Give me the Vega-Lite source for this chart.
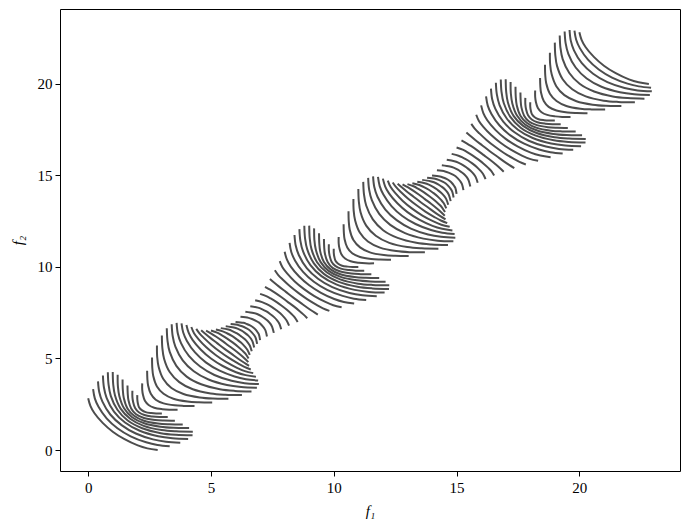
{
"$schema": "https://vega.github.io/schema/vega-lite/v6.json",
"width": 620, "height": 462,
"autosize": {"type": "none"},
"padding": {"left": 60, "top": 9, "right": 10, "bottom": 57},
"background": "white",
"config": {"view": {"stroke": "black", "strokeWidth": 1},
 "axis": {"domain": false, "grid": false, "tickColor": "black", "tickSize": 5, "tickWidth": 1, "labelFont": "Liberation Serif", "labelFontSize": 15, "labelColor": "black", "labelPadding": 4, "titleFont": "Liberation Serif", "titleFontSize": 15, "titleFontStyle": "italic", "titleFontWeight": "normal", "titleColor": "black"}},
"data": {"values": [
{"c":0,"x":0,"y":2.83},{"c":0,"x":0.09,"y":2.41},{"c":0,"x":0.25,"y":2.02},{"c":0,"x":0.59,"y":1.48},{"c":0,"x":1,"y":1},{"c":0,"x":1.48,"y":0.59},{"c":0,"x":2.02,"y":0.25},{"c":0,"x":2.41,"y":0.09},{"c":0,"x":2.83,"y":0},
{"c":1,"x":0.2,"y":3.32},{"c":1,"x":0.27,"y":2.82},{"c":1,"x":0.42,"y":2.36},{"c":1,"x":0.75,"y":1.73},{"c":1,"x":1.19,"y":1.19},{"c":1,"x":1.73,"y":0.75},{"c":1,"x":2.36,"y":0.42},{"c":1,"x":2.82,"y":0.27},{"c":1,"x":3.32,"y":0.2},
{"c":2,"x":0.4,"y":3.75},{"c":2,"x":0.45,"y":3.17},{"c":2,"x":0.58,"y":2.64},{"c":2,"x":0.9,"y":1.94},{"c":2,"x":1.36,"y":1.36},{"c":2,"x":1.94,"y":0.9},{"c":2,"x":2.64,"y":0.58},{"c":2,"x":3.17,"y":0.45},{"c":2,"x":3.75,"y":0.4},
{"c":3,"x":0.6,"y":4.07},{"c":3,"x":0.64,"y":3.43},{"c":3,"x":0.75,"y":2.85},{"c":3,"x":1.05,"y":2.1},{"c":3,"x":1.5,"y":1.5},{"c":3,"x":2.1,"y":1.05},{"c":3,"x":2.85,"y":0.75},{"c":3,"x":3.43,"y":0.64},{"c":3,"x":4.07,"y":0.6},
{"c":4,"x":0.8,"y":4.25},{"c":4,"x":0.83,"y":3.57},{"c":4,"x":0.92,"y":2.96},{"c":4,"x":1.19,"y":2.2},{"c":4,"x":1.61,"y":1.61},{"c":4,"x":2.2,"y":1.19},{"c":4,"x":2.96,"y":0.92},{"c":4,"x":3.57,"y":0.83},{"c":4,"x":4.25,"y":0.8},
{"c":5,"x":1,"y":4.26},{"c":5,"x":1.02,"y":3.58},{"c":5,"x":1.09,"y":2.99},{"c":5,"x":1.32,"y":2.26},{"c":5,"x":1.71,"y":1.71},{"c":5,"x":2.26,"y":1.32},{"c":5,"x":2.99,"y":1.09},{"c":5,"x":3.58,"y":1.02},{"c":5,"x":4.26,"y":1},
{"c":6,"x":1.2,"y":4.11},{"c":6,"x":1.21,"y":3.48},{"c":6,"x":1.27,"y":2.94},{"c":6,"x":1.46,"y":2.28},{"c":6,"x":1.79,"y":1.79},{"c":6,"x":2.28,"y":1.46},{"c":6,"x":2.94,"y":1.27},{"c":6,"x":3.48,"y":1.21},{"c":6,"x":4.11,"y":1.2},
{"c":7,"x":1.4,"y":3.85},{"c":7,"x":1.41,"y":3.3},{"c":7,"x":1.45,"y":2.84},{"c":7,"x":1.6,"y":2.27},{"c":7,"x":1.87,"y":1.87},{"c":7,"x":2.27,"y":1.6},{"c":7,"x":2.84,"y":1.45},{"c":7,"x":3.3,"y":1.41},{"c":7,"x":3.85,"y":1.4},
{"c":8,"x":1.6,"y":3.53},{"c":8,"x":1.61,"y":3.09},{"c":8,"x":1.64,"y":2.72},{"c":8,"x":1.75,"y":2.27},{"c":8,"x":1.95,"y":1.95},{"c":8,"x":2.27,"y":1.75},{"c":8,"x":2.72,"y":1.64},{"c":8,"x":3.09,"y":1.61},{"c":8,"x":3.53,"y":1.6},
{"c":9,"x":1.8,"y":3.24},{"c":9,"x":1.8,"y":2.9},{"c":9,"x":1.83,"y":2.62},{"c":9,"x":1.91,"y":2.29},{"c":9,"x":2.06,"y":2.06},{"c":9,"x":2.29,"y":1.91},{"c":9,"x":2.62,"y":1.83},{"c":9,"x":2.9,"y":1.8},{"c":9,"x":3.24,"y":1.8},
{"c":10,"x":2,"y":3},{"c":10,"x":2,"y":2.77},{"c":10,"x":2.02,"y":2.57},{"c":10,"x":2.07,"y":2.34},{"c":10,"x":2.18,"y":2.18},{"c":10,"x":2.34,"y":2.07},{"c":10,"x":2.57,"y":2.02},{"c":10,"x":2.77,"y":2},{"c":10,"x":3,"y":2},
{"c":11,"x":2.2,"y":3.64},{"c":11,"x":2.2,"y":3.3},{"c":11,"x":2.23,"y":3.02},{"c":11,"x":2.31,"y":2.69},{"c":11,"x":2.46,"y":2.46},{"c":11,"x":2.69,"y":2.31},{"c":11,"x":3.02,"y":2.23},{"c":11,"x":3.3,"y":2.2},{"c":11,"x":3.64,"y":2.2},
{"c":12,"x":2.4,"y":4.33},{"c":12,"x":2.41,"y":3.89},{"c":12,"x":2.44,"y":3.52},{"c":12,"x":2.55,"y":3.07},{"c":12,"x":2.75,"y":2.75},{"c":12,"x":3.07,"y":2.55},{"c":12,"x":3.52,"y":2.44},{"c":12,"x":3.89,"y":2.41},{"c":12,"x":4.33,"y":2.4},
{"c":13,"x":2.6,"y":5.05},{"c":13,"x":2.61,"y":4.5},{"c":13,"x":2.65,"y":4.04},{"c":13,"x":2.8,"y":3.47},{"c":13,"x":3.07,"y":3.07},{"c":13,"x":3.47,"y":2.8},{"c":13,"x":4.04,"y":2.65},{"c":13,"x":4.5,"y":2.61},{"c":13,"x":5.05,"y":2.6},
{"c":14,"x":2.8,"y":5.71},{"c":14,"x":2.81,"y":5.08},{"c":14,"x":2.87,"y":4.54},{"c":14,"x":3.06,"y":3.88},{"c":14,"x":3.39,"y":3.39},{"c":14,"x":3.88,"y":3.06},{"c":14,"x":4.54,"y":2.87},{"c":14,"x":5.08,"y":2.81},{"c":14,"x":5.71,"y":2.8},
{"c":15,"x":3,"y":6.26},{"c":15,"x":3.02,"y":5.58},{"c":15,"x":3.09,"y":4.99},{"c":15,"x":3.32,"y":4.26},{"c":15,"x":3.71,"y":3.71},{"c":15,"x":4.26,"y":3.32},{"c":15,"x":4.99,"y":3.09},{"c":15,"x":5.58,"y":3.02},{"c":15,"x":6.26,"y":3},
{"c":16,"x":3.2,"y":6.65},{"c":16,"x":3.23,"y":5.97},{"c":16,"x":3.32,"y":5.36},{"c":16,"x":3.59,"y":4.6},{"c":16,"x":4.01,"y":4.01},{"c":16,"x":4.6,"y":3.59},{"c":16,"x":5.36,"y":3.32},{"c":16,"x":5.97,"y":3.23},{"c":16,"x":6.65,"y":3.2},
{"c":17,"x":3.4,"y":6.87},{"c":17,"x":3.44,"y":6.23},{"c":17,"x":3.55,"y":5.65},{"c":17,"x":3.85,"y":4.9},{"c":17,"x":4.3,"y":4.3},{"c":17,"x":4.9,"y":3.85},{"c":17,"x":5.65,"y":3.55},{"c":17,"x":6.23,"y":3.44},{"c":17,"x":6.87,"y":3.4},
{"c":18,"x":3.6,"y":6.95},{"c":18,"x":3.65,"y":6.37},{"c":18,"x":3.78,"y":5.84},{"c":18,"x":4.1,"y":5.14},{"c":18,"x":4.56,"y":4.56},{"c":18,"x":5.14,"y":4.1},{"c":18,"x":5.84,"y":3.78},{"c":18,"x":6.37,"y":3.65},{"c":18,"x":6.95,"y":3.6},
{"c":19,"x":3.8,"y":6.92},{"c":19,"x":3.87,"y":6.42},{"c":19,"x":4.02,"y":5.96},{"c":19,"x":4.35,"y":5.33},{"c":19,"x":4.79,"y":4.79},{"c":19,"x":5.33,"y":4.35},{"c":19,"x":5.96,"y":4.02},{"c":19,"x":6.42,"y":3.87},{"c":19,"x":6.92,"y":3.8},
{"c":20,"x":4,"y":6.83},{"c":20,"x":4.09,"y":6.41},{"c":20,"x":4.25,"y":6.02},{"c":20,"x":4.59,"y":5.48},{"c":20,"x":5,"y":5},{"c":20,"x":5.48,"y":4.59},{"c":20,"x":6.02,"y":4.25},{"c":20,"x":6.41,"y":4.09},{"c":20,"x":6.83,"y":4},
{"c":21,"x":4.2,"y":6.72},{"c":21,"x":4.31,"y":6.38},{"c":21,"x":4.49,"y":6.06},{"c":21,"x":4.81,"y":5.61},{"c":21,"x":5.19,"y":5.19},{"c":21,"x":5.61,"y":4.81},{"c":21,"x":6.06,"y":4.49},{"c":21,"x":6.38,"y":4.31},{"c":21,"x":6.72,"y":4.2},
{"c":22,"x":4.4,"y":6.62},{"c":22,"x":4.54,"y":6.36},{"c":22,"x":4.73,"y":6.1},{"c":22,"x":5.03,"y":5.73},{"c":22,"x":5.37,"y":5.37},{"c":22,"x":5.73,"y":5.03},{"c":22,"x":6.1,"y":4.73},{"c":22,"x":6.36,"y":4.54},{"c":22,"x":6.62,"y":4.4},
{"c":23,"x":4.6,"y":6.55},{"c":23,"x":4.78,"y":6.34},{"c":23,"x":4.96,"y":6.14},{"c":23,"x":5.25,"y":5.84},{"c":23,"x":5.54,"y":5.54},{"c":23,"x":5.84,"y":5.25},{"c":23,"x":6.14,"y":4.96},{"c":23,"x":6.34,"y":4.78},{"c":23,"x":6.55,"y":4.6},
{"c":24,"x":4.8,"y":6.52},{"c":24,"x":5.01,"y":6.36},{"c":24,"x":5.2,"y":6.2},{"c":24,"x":5.46,"y":5.96},{"c":24,"x":5.71,"y":5.71},{"c":24,"x":5.96,"y":5.46},{"c":24,"x":6.2,"y":5.2},{"c":24,"x":6.36,"y":5.01},{"c":24,"x":6.52,"y":4.8},
{"c":25,"x":5,"y":6.53},{"c":25,"x":5.25,"y":6.41},{"c":25,"x":5.43,"y":6.28},{"c":25,"x":5.66,"y":6.09},{"c":25,"x":5.88,"y":5.88},{"c":25,"x":6.09,"y":5.66},{"c":25,"x":6.28,"y":5.43},{"c":25,"x":6.41,"y":5.25},{"c":25,"x":6.53,"y":5},
{"c":26,"x":5.2,"y":6.58},{"c":26,"x":5.48,"y":6.48},{"c":26,"x":5.65,"y":6.38},{"c":26,"x":5.87,"y":6.22},{"c":26,"x":6.05,"y":6.05},{"c":26,"x":6.22,"y":5.87},{"c":26,"x":6.38,"y":5.65},{"c":26,"x":6.48,"y":5.48},{"c":26,"x":6.58,"y":5.2},
{"c":27,"x":5.4,"y":6.66},{"c":27,"x":5.71,"y":6.58},{"c":27,"x":5.87,"y":6.5},{"c":27,"x":6.06,"y":6.37},{"c":27,"x":6.22,"y":6.22},{"c":27,"x":6.37,"y":6.06},{"c":27,"x":6.5,"y":5.87},{"c":27,"x":6.58,"y":5.71},{"c":27,"x":6.66,"y":5.4},
{"c":28,"x":5.6,"y":6.76},{"c":28,"x":5.93,"y":6.69},{"c":28,"x":6.08,"y":6.63},{"c":28,"x":6.25,"y":6.52},{"c":28,"x":6.39,"y":6.39},{"c":28,"x":6.52,"y":6.25},{"c":28,"x":6.63,"y":6.08},{"c":28,"x":6.69,"y":5.93},{"c":28,"x":6.76,"y":5.6},
{"c":29,"x":5.8,"y":6.88},{"c":29,"x":6.13,"y":6.82},{"c":29,"x":6.27,"y":6.76},{"c":29,"x":6.43,"y":6.66},{"c":29,"x":6.56,"y":6.56},{"c":29,"x":6.66,"y":6.43},{"c":29,"x":6.76,"y":6.27},{"c":29,"x":6.82,"y":6.13},{"c":29,"x":6.88,"y":5.8},
{"c":30,"x":6,"y":7},{"c":30,"x":6.32,"y":6.95},{"c":30,"x":6.45,"y":6.89},{"c":30,"x":6.59,"y":6.81},{"c":30,"x":6.71,"y":6.71},{"c":30,"x":6.81,"y":6.59},{"c":30,"x":6.89,"y":6.45},{"c":30,"x":6.95,"y":6.32},{"c":30,"x":7,"y":6},
{"c":31,"x":6.2,"y":7.28},{"c":31,"x":6.53,"y":7.22},{"c":31,"x":6.67,"y":7.16},{"c":31,"x":6.83,"y":7.06},{"c":31,"x":6.96,"y":6.96},{"c":31,"x":7.06,"y":6.83},{"c":31,"x":7.16,"y":6.67},{"c":31,"x":7.22,"y":6.53},{"c":31,"x":7.28,"y":6.2},
{"c":32,"x":6.4,"y":7.56},{"c":32,"x":6.73,"y":7.49},{"c":32,"x":6.88,"y":7.43},{"c":32,"x":7.05,"y":7.32},{"c":32,"x":7.19,"y":7.19},{"c":32,"x":7.32,"y":7.05},{"c":32,"x":7.43,"y":6.88},{"c":32,"x":7.49,"y":6.73},{"c":32,"x":7.56,"y":6.4},
{"c":33,"x":6.6,"y":7.86},{"c":33,"x":6.91,"y":7.78},{"c":33,"x":7.07,"y":7.7},{"c":33,"x":7.26,"y":7.57},{"c":33,"x":7.42,"y":7.42},{"c":33,"x":7.57,"y":7.26},{"c":33,"x":7.7,"y":7.07},{"c":33,"x":7.78,"y":6.91},{"c":33,"x":7.86,"y":6.6},
{"c":34,"x":6.8,"y":8.18},{"c":34,"x":7.08,"y":8.08},{"c":34,"x":7.25,"y":7.98},{"c":34,"x":7.47,"y":7.82},{"c":34,"x":7.65,"y":7.65},{"c":34,"x":7.82,"y":7.47},{"c":34,"x":7.98,"y":7.25},{"c":34,"x":8.08,"y":7.08},{"c":34,"x":8.18,"y":6.8},
{"c":35,"x":7,"y":8.53},{"c":35,"x":7.25,"y":8.41},{"c":35,"x":7.43,"y":8.28},{"c":35,"x":7.66,"y":8.09},{"c":35,"x":7.88,"y":7.88},{"c":35,"x":8.09,"y":7.66},{"c":35,"x":8.28,"y":7.43},{"c":35,"x":8.41,"y":7.25},{"c":35,"x":8.53,"y":7},
{"c":36,"x":7.2,"y":8.92},{"c":36,"x":7.41,"y":8.76},{"c":36,"x":7.6,"y":8.6},{"c":36,"x":7.86,"y":8.36},{"c":36,"x":8.11,"y":8.11},{"c":36,"x":8.36,"y":7.86},{"c":36,"x":8.6,"y":7.6},{"c":36,"x":8.76,"y":7.41},{"c":36,"x":8.92,"y":7.2},
{"c":37,"x":7.4,"y":9.35},{"c":37,"x":7.58,"y":9.14},{"c":37,"x":7.76,"y":8.94},{"c":37,"x":8.05,"y":8.64},{"c":37,"x":8.34,"y":8.34},{"c":37,"x":8.64,"y":8.05},{"c":37,"x":8.94,"y":7.76},{"c":37,"x":9.14,"y":7.58},{"c":37,"x":9.35,"y":7.4},
{"c":38,"x":7.6,"y":9.82},{"c":38,"x":7.74,"y":9.56},{"c":38,"x":7.93,"y":9.3},{"c":38,"x":8.23,"y":8.93},{"c":38,"x":8.57,"y":8.57},{"c":38,"x":8.93,"y":8.23},{"c":38,"x":9.3,"y":7.93},{"c":38,"x":9.56,"y":7.74},{"c":38,"x":9.82,"y":7.6},
{"c":39,"x":7.8,"y":10.32},{"c":39,"x":7.91,"y":9.98},{"c":39,"x":8.09,"y":9.66},{"c":39,"x":8.41,"y":9.21},{"c":39,"x":8.79,"y":8.79},{"c":39,"x":9.21,"y":8.41},{"c":39,"x":9.66,"y":8.09},{"c":39,"x":9.98,"y":7.91},{"c":39,"x":10.32,"y":7.8},
{"c":40,"x":8,"y":10.83},{"c":40,"x":8.09,"y":10.41},{"c":40,"x":8.25,"y":10.02},{"c":40,"x":8.59,"y":9.48},{"c":40,"x":9,"y":9},{"c":40,"x":9.48,"y":8.59},{"c":40,"x":10.02,"y":8.25},{"c":40,"x":10.41,"y":8.09},{"c":40,"x":10.83,"y":8},
{"c":41,"x":8.2,"y":11.32},{"c":41,"x":8.27,"y":10.82},{"c":41,"x":8.42,"y":10.36},{"c":41,"x":8.75,"y":9.73},{"c":41,"x":9.19,"y":9.19},{"c":41,"x":9.73,"y":8.75},{"c":41,"x":10.36,"y":8.42},{"c":41,"x":10.82,"y":8.27},{"c":41,"x":11.32,"y":8.2},
{"c":42,"x":8.4,"y":11.75},{"c":42,"x":8.45,"y":11.17},{"c":42,"x":8.58,"y":10.64},{"c":42,"x":8.9,"y":9.94},{"c":42,"x":9.36,"y":9.36},{"c":42,"x":9.94,"y":8.9},{"c":42,"x":10.64,"y":8.58},{"c":42,"x":11.17,"y":8.45},{"c":42,"x":11.75,"y":8.4},
{"c":43,"x":8.6,"y":12.07},{"c":43,"x":8.64,"y":11.43},{"c":43,"x":8.75,"y":10.85},{"c":43,"x":9.05,"y":10.1},{"c":43,"x":9.5,"y":9.5},{"c":43,"x":10.1,"y":9.05},{"c":43,"x":10.85,"y":8.75},{"c":43,"x":11.43,"y":8.64},{"c":43,"x":12.07,"y":8.6},
{"c":44,"x":8.8,"y":12.25},{"c":44,"x":8.83,"y":11.57},{"c":44,"x":8.92,"y":10.96},{"c":44,"x":9.19,"y":10.2},{"c":44,"x":9.61,"y":9.61},{"c":44,"x":10.2,"y":9.19},{"c":44,"x":10.96,"y":8.92},{"c":44,"x":11.57,"y":8.83},{"c":44,"x":12.25,"y":8.8},
{"c":45,"x":9,"y":12.26},{"c":45,"x":9.02,"y":11.58},{"c":45,"x":9.09,"y":10.99},{"c":45,"x":9.32,"y":10.26},{"c":45,"x":9.71,"y":9.71},{"c":45,"x":10.26,"y":9.32},{"c":45,"x":10.99,"y":9.09},{"c":45,"x":11.58,"y":9.02},{"c":45,"x":12.26,"y":9},
{"c":46,"x":9.2,"y":12.11},{"c":46,"x":9.21,"y":11.48},{"c":46,"x":9.27,"y":10.94},{"c":46,"x":9.46,"y":10.28},{"c":46,"x":9.79,"y":9.79},{"c":46,"x":10.28,"y":9.46},{"c":46,"x":10.94,"y":9.27},{"c":46,"x":11.48,"y":9.21},{"c":46,"x":12.11,"y":9.2},
{"c":47,"x":9.4,"y":11.85},{"c":47,"x":9.41,"y":11.3},{"c":47,"x":9.45,"y":10.84},{"c":47,"x":9.6,"y":10.27},{"c":47,"x":9.87,"y":9.87},{"c":47,"x":10.27,"y":9.6},{"c":47,"x":10.84,"y":9.45},{"c":47,"x":11.3,"y":9.41},{"c":47,"x":11.85,"y":9.4},
{"c":48,"x":9.6,"y":11.53},{"c":48,"x":9.61,"y":11.09},{"c":48,"x":9.64,"y":10.72},{"c":48,"x":9.75,"y":10.27},{"c":48,"x":9.95,"y":9.95},{"c":48,"x":10.27,"y":9.75},{"c":48,"x":10.72,"y":9.64},{"c":48,"x":11.09,"y":9.61},{"c":48,"x":11.53,"y":9.6},
{"c":49,"x":9.8,"y":11.24},{"c":49,"x":9.8,"y":10.9},{"c":49,"x":9.83,"y":10.62},{"c":49,"x":9.91,"y":10.29},{"c":49,"x":10.06,"y":10.06},{"c":49,"x":10.29,"y":9.91},{"c":49,"x":10.62,"y":9.83},{"c":49,"x":10.9,"y":9.8},{"c":49,"x":11.24,"y":9.8},
{"c":50,"x":10,"y":11},{"c":50,"x":10,"y":10.77},{"c":50,"x":10.02,"y":10.57},{"c":50,"x":10.07,"y":10.34},{"c":50,"x":10.18,"y":10.18},{"c":50,"x":10.34,"y":10.07},{"c":50,"x":10.57,"y":10.02},{"c":50,"x":10.77,"y":10},{"c":50,"x":11,"y":10},
{"c":51,"x":10.2,"y":11.64},{"c":51,"x":10.2,"y":11.3},{"c":51,"x":10.23,"y":11.02},{"c":51,"x":10.31,"y":10.69},{"c":51,"x":10.46,"y":10.46},{"c":51,"x":10.69,"y":10.31},{"c":51,"x":11.02,"y":10.23},{"c":51,"x":11.3,"y":10.2},{"c":51,"x":11.64,"y":10.2},
{"c":52,"x":10.4,"y":12.33},{"c":52,"x":10.41,"y":11.89},{"c":52,"x":10.44,"y":11.52},{"c":52,"x":10.55,"y":11.07},{"c":52,"x":10.75,"y":10.75},{"c":52,"x":11.07,"y":10.55},{"c":52,"x":11.52,"y":10.44},{"c":52,"x":11.89,"y":10.41},{"c":52,"x":12.33,"y":10.4},
{"c":53,"x":10.6,"y":13.05},{"c":53,"x":10.61,"y":12.5},{"c":53,"x":10.65,"y":12.04},{"c":53,"x":10.8,"y":11.47},{"c":53,"x":11.07,"y":11.07},{"c":53,"x":11.47,"y":10.8},{"c":53,"x":12.04,"y":10.65},{"c":53,"x":12.5,"y":10.61},{"c":53,"x":13.05,"y":10.6},
{"c":54,"x":10.8,"y":13.71},{"c":54,"x":10.81,"y":13.08},{"c":54,"x":10.87,"y":12.54},{"c":54,"x":11.06,"y":11.88},{"c":54,"x":11.39,"y":11.39},{"c":54,"x":11.88,"y":11.06},{"c":54,"x":12.54,"y":10.87},{"c":54,"x":13.08,"y":10.81},{"c":54,"x":13.71,"y":10.8},
{"c":55,"x":11,"y":14.26},{"c":55,"x":11.02,"y":13.58},{"c":55,"x":11.09,"y":12.99},{"c":55,"x":11.32,"y":12.26},{"c":55,"x":11.71,"y":11.71},{"c":55,"x":12.26,"y":11.32},{"c":55,"x":12.99,"y":11.09},{"c":55,"x":13.58,"y":11.02},{"c":55,"x":14.26,"y":11},
{"c":56,"x":11.2,"y":14.65},{"c":56,"x":11.23,"y":13.97},{"c":56,"x":11.32,"y":13.36},{"c":56,"x":11.59,"y":12.6},{"c":56,"x":12.01,"y":12.01},{"c":56,"x":12.6,"y":11.59},{"c":56,"x":13.36,"y":11.32},{"c":56,"x":13.97,"y":11.23},{"c":56,"x":14.65,"y":11.2},
{"c":57,"x":11.4,"y":14.87},{"c":57,"x":11.44,"y":14.23},{"c":57,"x":11.55,"y":13.65},{"c":57,"x":11.85,"y":12.9},{"c":57,"x":12.3,"y":12.3},{"c":57,"x":12.9,"y":11.85},{"c":57,"x":13.65,"y":11.55},{"c":57,"x":14.23,"y":11.44},{"c":57,"x":14.87,"y":11.4},
{"c":58,"x":11.6,"y":14.95},{"c":58,"x":11.65,"y":14.37},{"c":58,"x":11.78,"y":13.84},{"c":58,"x":12.1,"y":13.14},{"c":58,"x":12.56,"y":12.56},{"c":58,"x":13.14,"y":12.1},{"c":58,"x":13.84,"y":11.78},{"c":58,"x":14.37,"y":11.65},{"c":58,"x":14.95,"y":11.6},
{"c":59,"x":11.8,"y":14.92},{"c":59,"x":11.87,"y":14.42},{"c":59,"x":12.02,"y":13.96},{"c":59,"x":12.35,"y":13.33},{"c":59,"x":12.79,"y":12.79},{"c":59,"x":13.33,"y":12.35},{"c":59,"x":13.96,"y":12.02},{"c":59,"x":14.42,"y":11.87},{"c":59,"x":14.92,"y":11.8},
{"c":60,"x":12,"y":14.83},{"c":60,"x":12.09,"y":14.41},{"c":60,"x":12.25,"y":14.02},{"c":60,"x":12.59,"y":13.48},{"c":60,"x":13,"y":13},{"c":60,"x":13.48,"y":12.59},{"c":60,"x":14.02,"y":12.25},{"c":60,"x":14.41,"y":12.09},{"c":60,"x":14.83,"y":12},
{"c":61,"x":12.2,"y":14.72},{"c":61,"x":12.31,"y":14.38},{"c":61,"x":12.49,"y":14.06},{"c":61,"x":12.81,"y":13.61},{"c":61,"x":13.19,"y":13.19},{"c":61,"x":13.61,"y":12.81},{"c":61,"x":14.06,"y":12.49},{"c":61,"x":14.38,"y":12.31},{"c":61,"x":14.72,"y":12.2},
{"c":62,"x":12.4,"y":14.62},{"c":62,"x":12.54,"y":14.36},{"c":62,"x":12.73,"y":14.1},{"c":62,"x":13.03,"y":13.73},{"c":62,"x":13.37,"y":13.37},{"c":62,"x":13.73,"y":13.03},{"c":62,"x":14.1,"y":12.73},{"c":62,"x":14.36,"y":12.54},{"c":62,"x":14.62,"y":12.4},
{"c":63,"x":12.6,"y":14.55},{"c":63,"x":12.78,"y":14.34},{"c":63,"x":12.96,"y":14.14},{"c":63,"x":13.25,"y":13.84},{"c":63,"x":13.54,"y":13.54},{"c":63,"x":13.84,"y":13.25},{"c":63,"x":14.14,"y":12.96},{"c":63,"x":14.34,"y":12.78},{"c":63,"x":14.55,"y":12.6},
{"c":64,"x":12.8,"y":14.52},{"c":64,"x":13.01,"y":14.36},{"c":64,"x":13.2,"y":14.2},{"c":64,"x":13.46,"y":13.96},{"c":64,"x":13.71,"y":13.71},{"c":64,"x":13.96,"y":13.46},{"c":64,"x":14.2,"y":13.2},{"c":64,"x":14.36,"y":13.01},{"c":64,"x":14.52,"y":12.8},
{"c":65,"x":13,"y":14.53},{"c":65,"x":13.25,"y":14.41},{"c":65,"x":13.43,"y":14.28},{"c":65,"x":13.66,"y":14.09},{"c":65,"x":13.88,"y":13.88},{"c":65,"x":14.09,"y":13.66},{"c":65,"x":14.28,"y":13.43},{"c":65,"x":14.41,"y":13.25},{"c":65,"x":14.53,"y":13},
{"c":66,"x":13.2,"y":14.58},{"c":66,"x":13.48,"y":14.48},{"c":66,"x":13.65,"y":14.38},{"c":66,"x":13.87,"y":14.22},{"c":66,"x":14.05,"y":14.05},{"c":66,"x":14.22,"y":13.87},{"c":66,"x":14.38,"y":13.65},{"c":66,"x":14.48,"y":13.48},{"c":66,"x":14.58,"y":13.2},
{"c":67,"x":13.4,"y":14.66},{"c":67,"x":13.71,"y":14.58},{"c":67,"x":13.87,"y":14.5},{"c":67,"x":14.06,"y":14.37},{"c":67,"x":14.22,"y":14.22},{"c":67,"x":14.37,"y":14.06},{"c":67,"x":14.5,"y":13.87},{"c":67,"x":14.58,"y":13.71},{"c":67,"x":14.66,"y":13.4},
{"c":68,"x":13.6,"y":14.76},{"c":68,"x":13.93,"y":14.69},{"c":68,"x":14.08,"y":14.63},{"c":68,"x":14.25,"y":14.52},{"c":68,"x":14.39,"y":14.39},{"c":68,"x":14.52,"y":14.25},{"c":68,"x":14.63,"y":14.08},{"c":68,"x":14.69,"y":13.93},{"c":68,"x":14.76,"y":13.6},
{"c":69,"x":13.8,"y":14.88},{"c":69,"x":14.13,"y":14.82},{"c":69,"x":14.27,"y":14.76},{"c":69,"x":14.43,"y":14.66},{"c":69,"x":14.56,"y":14.56},{"c":69,"x":14.66,"y":14.43},{"c":69,"x":14.76,"y":14.27},{"c":69,"x":14.82,"y":14.13},{"c":69,"x":14.88,"y":13.8},
{"c":70,"x":14,"y":15},{"c":70,"x":14.32,"y":14.95},{"c":70,"x":14.45,"y":14.89},{"c":70,"x":14.59,"y":14.81},{"c":70,"x":14.71,"y":14.71},{"c":70,"x":14.81,"y":14.59},{"c":70,"x":14.89,"y":14.45},{"c":70,"x":14.95,"y":14.32},{"c":70,"x":15,"y":14},
{"c":71,"x":14.2,"y":15.28},{"c":71,"x":14.53,"y":15.22},{"c":71,"x":14.67,"y":15.16},{"c":71,"x":14.83,"y":15.06},{"c":71,"x":14.96,"y":14.96},{"c":71,"x":15.06,"y":14.83},{"c":71,"x":15.16,"y":14.67},{"c":71,"x":15.22,"y":14.53},{"c":71,"x":15.28,"y":14.2},
{"c":72,"x":14.4,"y":15.56},{"c":72,"x":14.73,"y":15.49},{"c":72,"x":14.88,"y":15.43},{"c":72,"x":15.05,"y":15.32},{"c":72,"x":15.19,"y":15.19},{"c":72,"x":15.32,"y":15.05},{"c":72,"x":15.43,"y":14.88},{"c":72,"x":15.49,"y":14.73},{"c":72,"x":15.56,"y":14.4},
{"c":73,"x":14.6,"y":15.86},{"c":73,"x":14.91,"y":15.78},{"c":73,"x":15.07,"y":15.7},{"c":73,"x":15.26,"y":15.57},{"c":73,"x":15.42,"y":15.42},{"c":73,"x":15.57,"y":15.26},{"c":73,"x":15.7,"y":15.07},{"c":73,"x":15.78,"y":14.91},{"c":73,"x":15.86,"y":14.6},
{"c":74,"x":14.8,"y":16.18},{"c":74,"x":15.08,"y":16.08},{"c":74,"x":15.25,"y":15.98},{"c":74,"x":15.47,"y":15.82},{"c":74,"x":15.65,"y":15.65},{"c":74,"x":15.82,"y":15.47},{"c":74,"x":15.98,"y":15.25},{"c":74,"x":16.08,"y":15.08},{"c":74,"x":16.18,"y":14.8},
{"c":75,"x":15,"y":16.53},{"c":75,"x":15.25,"y":16.41},{"c":75,"x":15.43,"y":16.28},{"c":75,"x":15.66,"y":16.09},{"c":75,"x":15.88,"y":15.88},{"c":75,"x":16.09,"y":15.66},{"c":75,"x":16.28,"y":15.43},{"c":75,"x":16.41,"y":15.25},{"c":75,"x":16.53,"y":15},
{"c":76,"x":15.2,"y":16.92},{"c":76,"x":15.41,"y":16.76},{"c":76,"x":15.6,"y":16.6},{"c":76,"x":15.86,"y":16.36},{"c":76,"x":16.11,"y":16.11},{"c":76,"x":16.36,"y":15.86},{"c":76,"x":16.6,"y":15.6},{"c":76,"x":16.76,"y":15.41},{"c":76,"x":16.92,"y":15.2},
{"c":77,"x":15.4,"y":17.35},{"c":77,"x":15.58,"y":17.14},{"c":77,"x":15.76,"y":16.94},{"c":77,"x":16.05,"y":16.64},{"c":77,"x":16.34,"y":16.34},{"c":77,"x":16.64,"y":16.05},{"c":77,"x":16.94,"y":15.76},{"c":77,"x":17.14,"y":15.58},{"c":77,"x":17.35,"y":15.4},
{"c":78,"x":15.6,"y":17.82},{"c":78,"x":15.74,"y":17.56},{"c":78,"x":15.93,"y":17.3},{"c":78,"x":16.23,"y":16.93},{"c":78,"x":16.57,"y":16.57},{"c":78,"x":16.93,"y":16.23},{"c":78,"x":17.3,"y":15.93},{"c":78,"x":17.56,"y":15.74},{"c":78,"x":17.82,"y":15.6},
{"c":79,"x":15.8,"y":18.32},{"c":79,"x":15.91,"y":17.98},{"c":79,"x":16.09,"y":17.66},{"c":79,"x":16.41,"y":17.21},{"c":79,"x":16.79,"y":16.79},{"c":79,"x":17.21,"y":16.41},{"c":79,"x":17.66,"y":16.09},{"c":79,"x":17.98,"y":15.91},{"c":79,"x":18.32,"y":15.8},
{"c":80,"x":16,"y":18.83},{"c":80,"x":16.09,"y":18.41},{"c":80,"x":16.25,"y":18.02},{"c":80,"x":16.59,"y":17.48},{"c":80,"x":17,"y":17},{"c":80,"x":17.48,"y":16.59},{"c":80,"x":18.02,"y":16.25},{"c":80,"x":18.41,"y":16.09},{"c":80,"x":18.83,"y":16},
{"c":81,"x":16.2,"y":19.32},{"c":81,"x":16.27,"y":18.82},{"c":81,"x":16.42,"y":18.36},{"c":81,"x":16.75,"y":17.73},{"c":81,"x":17.19,"y":17.19},{"c":81,"x":17.73,"y":16.75},{"c":81,"x":18.36,"y":16.42},{"c":81,"x":18.82,"y":16.27},{"c":81,"x":19.32,"y":16.2},
{"c":82,"x":16.4,"y":19.75},{"c":82,"x":16.45,"y":19.17},{"c":82,"x":16.58,"y":18.64},{"c":82,"x":16.9,"y":17.94},{"c":82,"x":17.36,"y":17.36},{"c":82,"x":17.94,"y":16.9},{"c":82,"x":18.64,"y":16.58},{"c":82,"x":19.17,"y":16.45},{"c":82,"x":19.75,"y":16.4},
{"c":83,"x":16.6,"y":20.07},{"c":83,"x":16.64,"y":19.43},{"c":83,"x":16.75,"y":18.85},{"c":83,"x":17.05,"y":18.1},{"c":83,"x":17.5,"y":17.5},{"c":83,"x":18.1,"y":17.05},{"c":83,"x":18.85,"y":16.75},{"c":83,"x":19.43,"y":16.64},{"c":83,"x":20.07,"y":16.6},
{"c":84,"x":16.8,"y":20.25},{"c":84,"x":16.83,"y":19.57},{"c":84,"x":16.92,"y":18.96},{"c":84,"x":17.19,"y":18.2},{"c":84,"x":17.61,"y":17.61},{"c":84,"x":18.2,"y":17.19},{"c":84,"x":18.96,"y":16.92},{"c":84,"x":19.57,"y":16.83},{"c":84,"x":20.25,"y":16.8},
{"c":85,"x":17,"y":20.26},{"c":85,"x":17.02,"y":19.58},{"c":85,"x":17.09,"y":18.99},{"c":85,"x":17.32,"y":18.26},{"c":85,"x":17.71,"y":17.71},{"c":85,"x":18.26,"y":17.32},{"c":85,"x":18.99,"y":17.09},{"c":85,"x":19.58,"y":17.02},{"c":85,"x":20.26,"y":17},
{"c":86,"x":17.2,"y":20.11},{"c":86,"x":17.21,"y":19.48},{"c":86,"x":17.27,"y":18.94},{"c":86,"x":17.46,"y":18.28},{"c":86,"x":17.79,"y":17.79},{"c":86,"x":18.28,"y":17.46},{"c":86,"x":18.94,"y":17.27},{"c":86,"x":19.48,"y":17.21},{"c":86,"x":20.11,"y":17.2},
{"c":87,"x":17.4,"y":19.85},{"c":87,"x":17.41,"y":19.3},{"c":87,"x":17.45,"y":18.84},{"c":87,"x":17.6,"y":18.27},{"c":87,"x":17.87,"y":17.87},{"c":87,"x":18.27,"y":17.6},{"c":87,"x":18.84,"y":17.45},{"c":87,"x":19.3,"y":17.41},{"c":87,"x":19.85,"y":17.4},
{"c":88,"x":17.6,"y":19.53},{"c":88,"x":17.61,"y":19.09},{"c":88,"x":17.64,"y":18.72},{"c":88,"x":17.75,"y":18.27},{"c":88,"x":17.95,"y":17.95},{"c":88,"x":18.27,"y":17.75},{"c":88,"x":18.72,"y":17.64},{"c":88,"x":19.09,"y":17.61},{"c":88,"x":19.53,"y":17.6},
{"c":89,"x":17.8,"y":19.24},{"c":89,"x":17.8,"y":18.9},{"c":89,"x":17.83,"y":18.62},{"c":89,"x":17.91,"y":18.29},{"c":89,"x":18.06,"y":18.06},{"c":89,"x":18.29,"y":17.91},{"c":89,"x":18.62,"y":17.83},{"c":89,"x":18.9,"y":17.8},{"c":89,"x":19.24,"y":17.8},
{"c":90,"x":18,"y":19},{"c":90,"x":18,"y":18.77},{"c":90,"x":18.02,"y":18.57},{"c":90,"x":18.07,"y":18.34},{"c":90,"x":18.18,"y":18.18},{"c":90,"x":18.34,"y":18.07},{"c":90,"x":18.57,"y":18.02},{"c":90,"x":18.77,"y":18},{"c":90,"x":19,"y":18},
{"c":91,"x":18.2,"y":19.64},{"c":91,"x":18.2,"y":19.3},{"c":91,"x":18.23,"y":19.02},{"c":91,"x":18.31,"y":18.69},{"c":91,"x":18.46,"y":18.46},{"c":91,"x":18.69,"y":18.31},{"c":91,"x":19.02,"y":18.23},{"c":91,"x":19.3,"y":18.2},{"c":91,"x":19.64,"y":18.2},
{"c":92,"x":18.4,"y":20.33},{"c":92,"x":18.41,"y":19.89},{"c":92,"x":18.44,"y":19.52},{"c":92,"x":18.55,"y":19.07},{"c":92,"x":18.75,"y":18.75},{"c":92,"x":19.07,"y":18.55},{"c":92,"x":19.52,"y":18.44},{"c":92,"x":19.89,"y":18.41},{"c":92,"x":20.33,"y":18.4},
{"c":93,"x":18.6,"y":21.05},{"c":93,"x":18.61,"y":20.5},{"c":93,"x":18.65,"y":20.04},{"c":93,"x":18.8,"y":19.47},{"c":93,"x":19.07,"y":19.07},{"c":93,"x":19.47,"y":18.8},{"c":93,"x":20.04,"y":18.65},{"c":93,"x":20.5,"y":18.61},{"c":93,"x":21.05,"y":18.6},
{"c":94,"x":18.8,"y":21.71},{"c":94,"x":18.81,"y":21.08},{"c":94,"x":18.87,"y":20.54},{"c":94,"x":19.06,"y":19.88},{"c":94,"x":19.39,"y":19.39},{"c":94,"x":19.88,"y":19.06},{"c":94,"x":20.54,"y":18.87},{"c":94,"x":21.08,"y":18.81},{"c":94,"x":21.71,"y":18.8},
{"c":95,"x":19,"y":22.26},{"c":95,"x":19.02,"y":21.58},{"c":95,"x":19.09,"y":20.99},{"c":95,"x":19.32,"y":20.26},{"c":95,"x":19.71,"y":19.71},{"c":95,"x":20.26,"y":19.32},{"c":95,"x":20.99,"y":19.09},{"c":95,"x":21.58,"y":19.02},{"c":95,"x":22.26,"y":19},
{"c":96,"x":19.2,"y":22.65},{"c":96,"x":19.23,"y":21.97},{"c":96,"x":19.32,"y":21.36},{"c":96,"x":19.59,"y":20.6},{"c":96,"x":20.01,"y":20.01},{"c":96,"x":20.6,"y":19.59},{"c":96,"x":21.36,"y":19.32},{"c":96,"x":21.97,"y":19.23},{"c":96,"x":22.65,"y":19.2},
{"c":97,"x":19.4,"y":22.87},{"c":97,"x":19.44,"y":22.23},{"c":97,"x":19.55,"y":21.65},{"c":97,"x":19.85,"y":20.9},{"c":97,"x":20.3,"y":20.3},{"c":97,"x":20.9,"y":19.85},{"c":97,"x":21.65,"y":19.55},{"c":97,"x":22.23,"y":19.44},{"c":97,"x":22.87,"y":19.4},
{"c":98,"x":19.6,"y":22.95},{"c":98,"x":19.65,"y":22.37},{"c":98,"x":19.78,"y":21.84},{"c":98,"x":20.1,"y":21.14},{"c":98,"x":20.56,"y":20.56},{"c":98,"x":21.14,"y":20.1},{"c":98,"x":21.84,"y":19.78},{"c":98,"x":22.37,"y":19.65},{"c":98,"x":22.95,"y":19.6},
{"c":99,"x":19.8,"y":22.92},{"c":99,"x":19.87,"y":22.42},{"c":99,"x":20.02,"y":21.96},{"c":99,"x":20.35,"y":21.33},{"c":99,"x":20.79,"y":20.79},{"c":99,"x":21.33,"y":20.35},{"c":99,"x":21.96,"y":20.02},{"c":99,"x":22.42,"y":19.87},{"c":99,"x":22.92,"y":19.8},
{"c":100,"x":20,"y":22.83},{"c":100,"x":20.09,"y":22.41},{"c":100,"x":20.25,"y":22.02},{"c":100,"x":20.59,"y":21.48},{"c":100,"x":21,"y":21},{"c":100,"x":21.48,"y":20.59},{"c":100,"x":22.02,"y":20.25},{"c":100,"x":22.41,"y":20.09},{"c":100,"x":22.83,"y":20}
]},
"mark": {"type": "line", "interpolate": "catmull-rom", "strokeWidth": 2, "color": "#4d4d4d", "clip": true},
"encoding": {
 "x": {"field": "x", "type": "quantitative", "scale": {"domain": [-1.1475, 24.0975], "nice": false, "zero": false},
  "axis": {"values": [0, 5, 10, 15, 20], "title": "f₁", "titleX": 310, "titleY": 39, "titleBaseline": "middle", "titleAlign": "center"}},
 "y": {"field": "y", "type": "quantitative", "scale": {"domain": [-1.1475, 24.0975], "nice": false, "zero": false},
  "axis": {"values": [0, 5, 10, 15, 20], "title": "f₂", "titleX": -43, "titleY": 231, "titleAngle": 270, "titleBaseline": "middle", "titleAlign": "center", "labelPadding": 3}},
 "detail": {"field": "c", "type": "nominal"},
 "order": {"value": null}
}
}
